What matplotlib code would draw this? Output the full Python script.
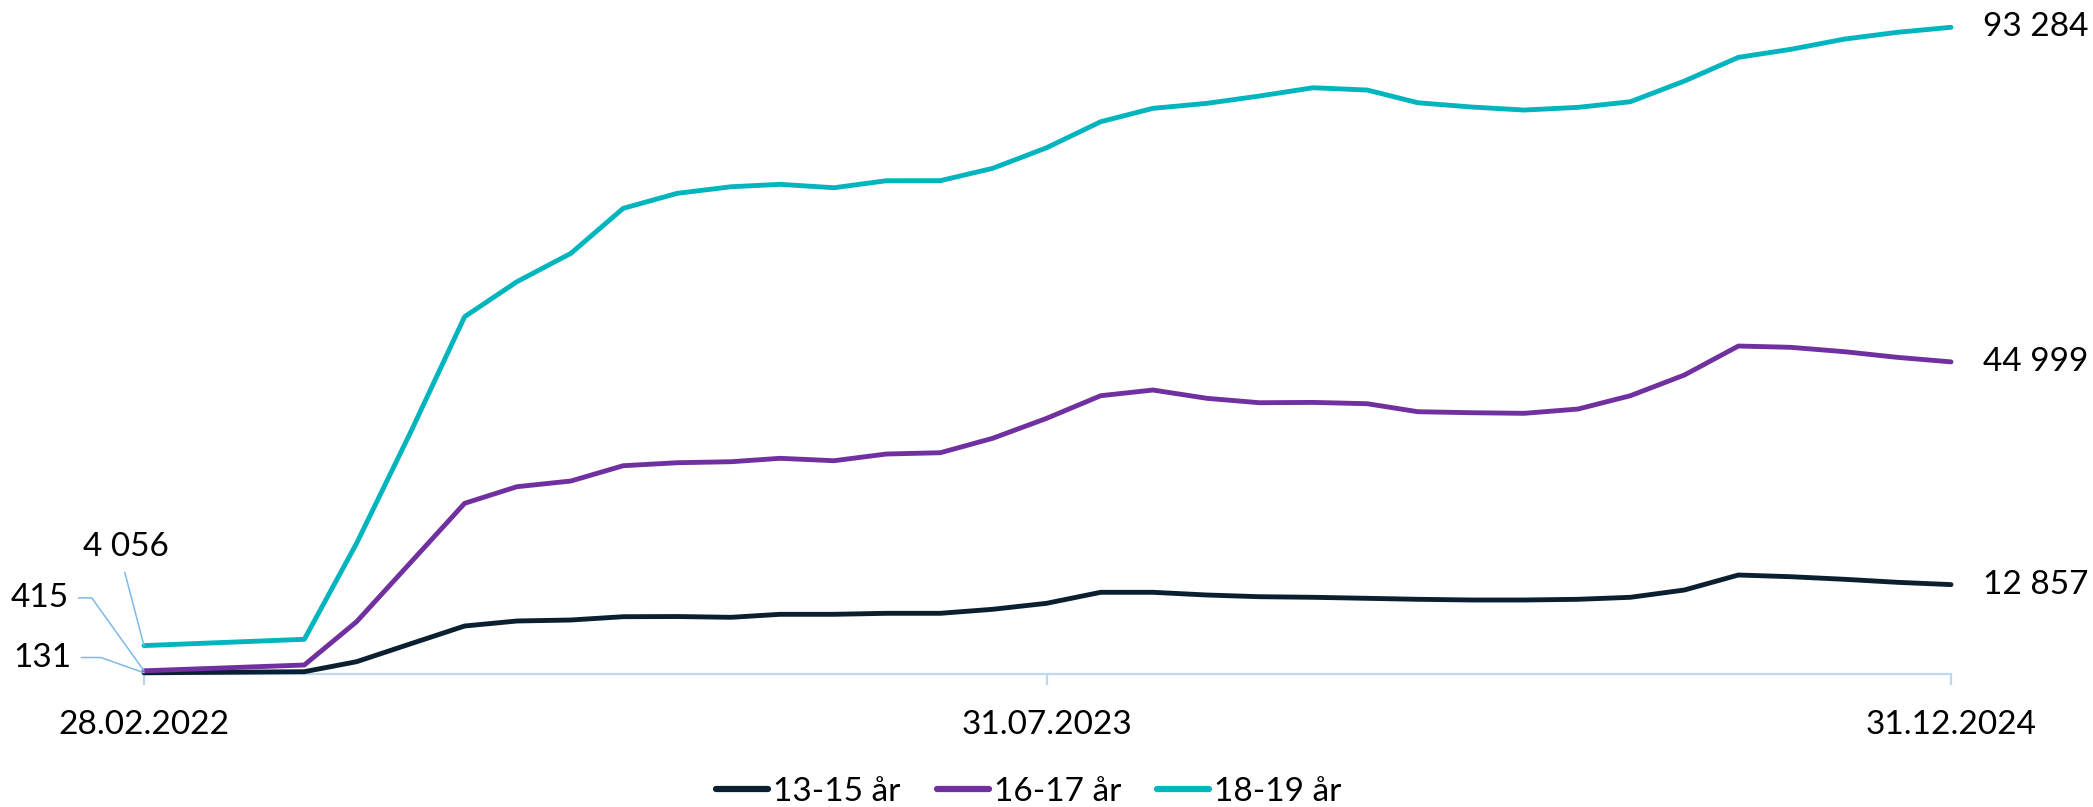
import matplotlib.pyplot as plt
import matplotlib.dates as mdates
import pandas as pd

plt.rcParams['font.family'] = ['Lato', 'DejaVu Sans']

# datoer (siste dag i mnd)
dates = ['2022-02-28', '2022-05-31', '2022-06-30', '2022-07-31', '2022-08-31',
         '2022-09-30', '2022-10-31', '2022-11-30', '2022-12-31', '2023-01-31',
         '2023-02-28', '2023-03-31', '2023-04-30', '2023-05-31', '2023-06-30',
         '2023-07-31', '2023-08-31', '2023-09-30', '2023-10-31', '2023-11-30',
         '2023-12-31', '2024-01-31', '2024-02-29', '2024-03-31', '2024-04-30',
         '2024-05-31', '2024-06-30', '2024-07-31', '2024-08-31', '2024-09-30',
         '2024-10-31', '2024-11-30', '2024-12-31']
tick_dates = ['2022-02-28', '2023-07-31', '2024-12-31']

age_13_15 = [131, 289, 1732, 4315, 6883, 7605, 7749, 8225, 8250, 8138, 8571,
             8571, 8716, 8716, 9293, 10159, 11746, 11746, 11356, 11111, 11025,
             10880, 10736, 10635, 10635, 10736, 11025, 12078, 14242, 13997,
             13622, 13189, 12857]
age_16_17 = [415, 1255, 7504, 16046, 24589, 26984, 27807, 30014, 30447, 30592,
             31082, 30736, 31703, 31890, 33968, 36850, 40115, 40938, 39740,
             39105, 39150, 38961, 37807, 37662, 37576, 38196, 40115, 43102,
             47287, 47100, 46465, 45657, 44999]
age_18_19 = [4056, 4964, 18817, 34848, 51515, 56566, 60663, 67157, 69322,
             70274, 70620, 70130, 71140, 71150, 72929, 75900, 79654, 81587,
             82309, 83362, 84560, 84228, 82395, 81775, 81342, 81731, 82540,
             85527, 88947, 90101, 91587, 92554, 93284]

labels = ['13-15 år', '16-17 år', '18-19 år']
colors = ['#0A1F30', '#7030A0', '#00B5BD']

x = pd.to_datetime(dates)
W, H = 2093, 807
fig = plt.figure(figsize=(W / 100, H / 100), dpi=100)
ax = fig.add_axes([144 / W, (H - 673.7) / H, 1807 / W, 658.3 / H])

series = [age_13_15, age_16_17, age_18_19]
for s, lab, c in zip(series, labels, colors):
    ax.plot(x, s, color=c, lw=3.5, label=lab, solid_capstyle='round',
            solid_joinstyle='round', clip_on=False, zorder=3)

ax.set_xlim(x[0], x[-1])
ax.set_ylim(0, 95000)

for sp in ['top', 'left', 'right']:
    ax.spines[sp].set_visible(False)
ax.spines['bottom'].set_color('#BDD7EE')
ax.spines['bottom'].set_linewidth(1.6)
ax.set_yticks([])
ax.set_xticks(pd.to_datetime(tick_dates))
ax.xaxis.set_major_formatter(mdates.DateFormatter('%d.%m.%Y'))
ax.tick_params(axis='x', colors='#BDD7EE', length=8, width=1.6, pad=18,
               labelsize=24, labelcolor='black')

def fmt(v):
    return f'{v:,}'.replace(',', ' ')

# sluttverdier
for s in series:
    ax.annotate(fmt(s[-1]), xy=(x[-1], s[-1]), xytext=(23, 0),
                textcoords='offset points', ha='left', va='center',
                fontsize=24, annotation_clip=False)

# startverdier med ledelinjer
lead = '#7DB9EA'
ax.annotate(fmt(age_18_19[0]), xy=(x[0], age_18_19[0]), xytext=(-12.8, 71.3),
            textcoords='offset points', ha='center', va='center', fontsize=24,
            annotation_clip=False,
            arrowprops=dict(arrowstyle='-', color=lead, lw=1.1, relpos=(0.45, 0),
                            shrinkA=6, shrinkB=0))
ax.annotate(fmt(age_16_17[0]), xy=(x[0], age_16_17[0]), xytext=(-54.2, 52.5),
            textcoords='offset points', ha='right', va='center', fontsize=24,
            annotation_clip=False,
            arrowprops=dict(arrowstyle='-', color=lead, lw=1.1, relpos=(1, 0.5),
                            shrinkA=5, shrinkB=0,
                            connectionstyle='angle,angleA=0,angleB=125.6,rad=0'))
ax.annotate(fmt(age_13_15[0]), xy=(x[0], age_13_15[0]), xytext=(-52.1, 11),
            textcoords='offset points', ha='right', va='center', fontsize=24,
            annotation_clip=False,
            arrowprops=dict(arrowstyle='-', color=lead, lw=1.1, relpos=(1, 0.5),
                            shrinkA=5, shrinkB=0,
                            connectionstyle='angle,angleA=0,angleB=160.5,rad=0'))

leg = fig.legend(loc='center', bbox_to_anchor=(1029 / W, 1 - 792 / H), ncol=3,
                 frameon=False, fontsize=24, handlelength=1.56,
                 handletextpad=0.15, columnspacing=1.08)
for h in leg.get_lines():
    h.set_linewidth(4.5)
    h.set_solid_capstyle('round')

fig.savefig('out.png', dpi=100)
